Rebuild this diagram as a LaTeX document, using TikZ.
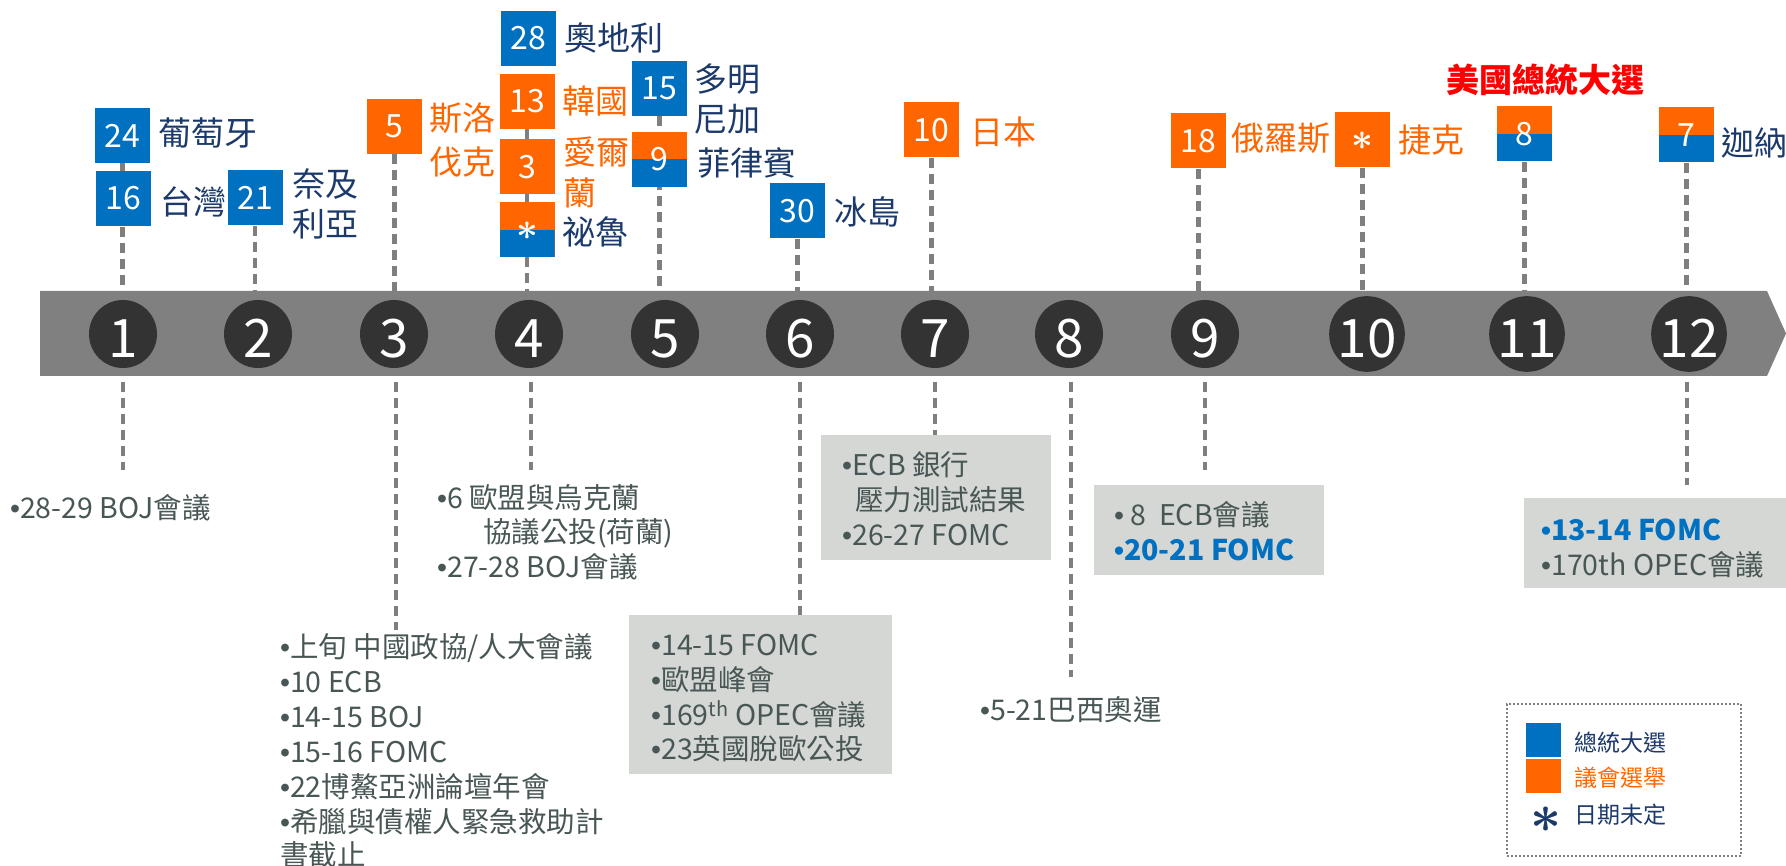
\documentclass[tikz,border=0pt]{standalone}
\usepackage{fontspec}
\setmainfont{Noto Sans CJK TC}
\newfontfamily\lmfont[Extension=.otf]{lmroman10-bold}
\newfontfamily\bulfont{Liberation Sans}
\newcommand\mybul{{\bulfont •}}
\usetikzlibrary{backgrounds}
\definecolor{cblue}{HTML}{0070C0}
\definecolor{corange}{HTML}{FF6600}
\definecolor{cnavy}{HTML}{1B3A6B}
\definecolor{ctext}{HTML}{485755}
\definecolor{cgbox}{HTML}{D5D7D4}
\definecolor{cband}{HTML}{808080}
\definecolor{ccirc}{HTML}{333333}
\definecolor{cred}{HTML}{FF0000}
\definecolor{cdash}{HTML}{7F7F7F}
\tikzset{
  datebox/.style={minimum width=55pt, minimum height=55pt, inner sep=0pt, text=white, font=\fontsize{32}{32}\selectfont},
  bluebox/.style={datebox, fill=cblue},
  orangebox/.style={datebox, fill=corange},
  splitbox/.style={datebox, fill=corange, path picture={
      \fill[corange] (path picture bounding box.north west) rectangle (path picture bounding box.east);
      \fill[cblue] (path picture bounding box.west) rectangle (path picture bounding box.south east);}},
  astbox/.style={font=\lmfont\fontsize{38}{38}\selectfont, text height=41pt, text depth=0pt},
  clabel/.style={anchor=west, inner sep=0pt, font=\fontsize{33}{40}\selectfont, text=cnavy, align=left},
  olabel/.style={clabel, text=corange},
  titlelbl/.style={inner sep=0pt, font=\fontsize{33}{33}\selectfont\bfseries, text=cred},
  circ/.style={circle, fill=ccirc, minimum size=68pt, inner sep=0pt, text=white, font=\fontsize{53}{53}\selectfont, text height=48pt, text depth=0pt},
  dline/.style={draw=cdash, line width=4.5pt, dash pattern=on 10pt off 6pt},
  gbox/.style={fill=cgbox, inner sep=0pt},
  btxt/.style={anchor=west, inner sep=0pt, font=\fontsize{28.5}{28.5}\selectfont, text=ctext, text height=21.5pt, text depth=0pt},
  bbtxt/.style={btxt, text=cblue, font=\fontsize{28.5}{28.5}\selectfont\bfseries},
  ltxt/.style={anchor=west, inner sep=0pt, font=\fontsize{23}{23}\selectfont, text=cnavy},
  legsq/.style={minimum width=35pt, minimum height=34pt, inner sep=0pt},
  legast/.style={inner sep=0pt, text=cnavy, font=\lmfont\fontsize{54}{54}\selectfont, text height=58pt, text depth=0pt}
}
\begin{document}
\begin{tikzpicture}[x=1pt,y=-1pt]
\useasboundingbox (0,0) rectangle (1786,866);
% timeline band
\fill[cband] (40,291) -- (1767,291) -- (1786,333.5) -- (1767,376) -- (40,376) -- cycle;
\foreach \n/\x in {1/123,2/258,3/394,4/529,5/665,6/800,7/935,8/1069,9/1205,10/1367,11/1527,12/1689}
  \node[circ] (c\n) at (\x,334) {\n};

% top events
\node[bluebox] (b24) at (122.5,135.5) {24};
\node[clabel] (l24) at (158,133) {葡萄牙};
\node[bluebox] (b16) at (123.5,198.5) {16};
\node[clabel] (l16) at (160,202) {台灣};
\node[bluebox] (b21) at (255,198) {21};
\node[clabel] (l21) at (292,203.5) {奈及\\利亞};
\node[orangebox] (b5) at (394.5,126.5) {5};
\node[olabel, font=\fontsize{33}{44}\selectfont] (l5) at (429,140) {斯洛\\伐克};
\node[bluebox] (b28) at (528.5,38.5) {28};
\node[clabel] (l28) at (564,38) {奧地利};
\node[orangebox] (b13) at (527,101.5) {13};
\node[olabel] (l13) at (562,101) {韓國};
\node[orangebox] (b3) at (527,167) {3};
\node[olabel, font=\fontsize{33}{41}\selectfont] (l3) at (563,172.5) {愛爾\\蘭};
\node[splitbox, astbox] (bp) at (527,230) {*};
\node[clabel] (lp) at (562,232) {祕魯};
\node[bluebox] (b15) at (659.5,88.5) {15};
\node[clabel] (l15) at (694,99) {多明\\尼加};
\node[splitbox] (b9) at (659.5,159.5) {9};
\node[clabel] (l9) at (697,163) {菲律賓};
\node[bluebox] (b30) at (797.5,211) {30};
\node[clabel] (l30) at (834,212) {冰島};
\node[orangebox] (b10) at (931.5,130) {10};
\node[olabel] (l10) at (970,132) {日本};
\node[orangebox] (b18) at (1198.5,141) {18};
\node[olabel] (l18) at (1231,138) {俄羅斯};
\node[orangebox, astbox] (bc) at (1362.5,140) {*};
\node[olabel] (lc) at (1398,140) {捷克};
\node[titlelbl] (us) at (1545,80) {美國總統大選};
\node[splitbox] (b8) at (1524.5,134) {8};
\node[splitbox] (b7) at (1686.5,135) {7};
\node[clabel] (l7) at (1721,143) {迦納};

% bottom events
\node[btxt] (t1) at (10,508) {\mybul{}28-29 BOJ會議};

\node[btxt] (t3a) at (280,647) {\mybul{}上旬 中國政協/人大會議};
\node[btxt] (t3b) at (280,682) {\mybul{}10 ECB};
\node[btxt] (t3c) at (280,717) {\mybul{}14-15 BOJ};
\node[btxt] (t3d) at (280,752) {\mybul{}15-16 FOMC};
\node[btxt] (t3e) at (280,787) {\mybul{}22博鰲亞洲論壇年會};
\node[btxt] (t3f) at (280,822) {\mybul{}希臘與債權人緊急救助計};
\node[btxt] (t3g) at (280,855) {書截止};

\node[btxt] (t4a) at (437,498) {\mybul{}6 歐盟與烏克蘭};
\node[btxt] (t4b) at (483,532) {協議公投(荷蘭)};
\node[btxt] (t4c) at (437,567) {\mybul{}27-28 BOJ會議};

\node[gbox, minimum width=263pt, minimum height=159pt] (g6) at (760.5,694.5) {};
\node[btxt] (t6a) at (651,645) {\mybul{}14-15 FOMC};
\node[btxt] (t6b) at (651,680) {\mybul{}歐盟峰會};
\node[btxt] (t6c) at (651,715) {\mybul{}169\textsuperscript{th} OPEC會議};
\node[btxt] (t6d) at (651,749) {\mybul{}23英國脫歐公投};

\node[gbox, minimum width=230pt, minimum height=125pt] (g7) at (936,497.5) {};
\node[btxt] (t7a) at (842,465) {\mybul{}ECB 銀行};
\node[btxt] (t7b) at (855,500) {壓力測試結果};
\node[btxt] (t7c) at (842,535) {\mybul{}26-27 FOMC};

\node[btxt] (t8) at (980,710) {\mybul{}5-21巴西奧運};

\node[gbox, minimum width=230pt, minimum height=90pt] (g9) at (1209,530) {};
\node[btxt] (t9a) at (1114,515) {\mybul{}\ 8\ \ ECB會議};
\node[bbtxt] (t9b) at (1114,550) {\mybul{}20-21 FOMC};

\node[gbox, minimum width=262pt, minimum height=90pt] (g12) at (1655,543) {};
\node[bbtxt] (t12a) at (1541,530) {\mybul{}13-14 FOMC};
\node[btxt] (t12b) at (1541,565) {\mybul{}170th OPEC會議};

% legend
\node[draw=cdash, line width=2pt, dash pattern=on 2pt off 2pt, minimum width=234pt, minimum height=152pt, inner sep=0pt] (leg) at (1624,780) {};
\node[legsq, fill=cblue] (sqb) at (1543.5,740) {};
\node[legsq, fill=corange] (sqo) at (1543.5,776) {};
\node[ltxt] (lgb) at (1574,743) {總統大選};
\node[ltxt, text=corange] (lgo) at (1574,778) {議會選舉};
\node[legast] (lga) at (1546,818) {*};
\node[ltxt] (lgd) at (1574,815) {日期未定};

% free ends of lower connectors
\coordinate (e1) at (123,470);
\coordinate (e3) at (396,630);
\coordinate (e4) at (531,470);
\coordinate (e8) at (1071,677);
\coordinate (e9) at (1205,470);
\coordinate (e12) at (1687,485);

\begin{scope}[on background layer]
\draw[dline] (b24.south) -- (b24.south |- c1.center);
\draw[dline] (b21.south) -- (b21.south |- c2.center);
\draw[dline] (b5.south) -- (b5.south |- c3.center);
\draw[dline] (b13.south) -- (b13.south |- c4.center);
\draw[dline] (b15.south) -- (b15.south |- c5.center);
\draw[dline] (b30.south) -- (b30.south |- c6.center);
\draw[dline] (b10.south) -- (b10.south |- c7.center);
\draw[dline] (b18.south) -- (b18.south |- c9.center);
\draw[dline] (bc.south) -- (bc.south |- c10.center);
\draw[dline] (b8.south) -- (b8.south |- c11.center);
\draw[dline] (b7.south) -- (b7.south |- c12.center);
\draw[dline] (e1 |- c1.center) -- (e1);
\draw[dline] (e3 |- c3.center) -- (e3);
\draw[dline] (e4 |- c4.center) -- (e4);
\draw[dline] (c6.center) -- (c6.center |- g6.north);
\draw[dline] (c7.center) -- (c7.center |- g7.north);
\draw[dline] (e8 |- c8.center) -- (e8);
\draw[dline] (e9 |- c9.center) -- (e9);
\draw[dline] (e12 |- c12.center) -- (e12);
\end{scope}
\end{tikzpicture}
\end{document}
